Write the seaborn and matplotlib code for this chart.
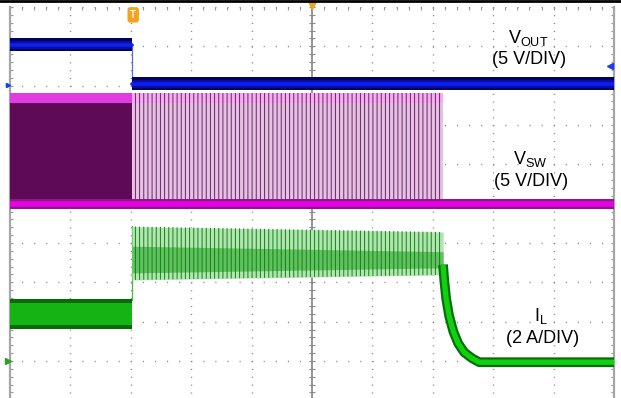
import numpy as np
import pandas as pd
import matplotlib
matplotlib.use("Agg")
import matplotlib.pyplot as plt
import seaborn as sns
from matplotlib.lines import Line2D
from matplotlib.ticker import MultipleLocator

# ---------------- data (time and amplitude in scope divisions; screen top = 10) ----------------
t_step = 2.02          # load release / trigger point
t_sw_end = 7.17        # last switching pulse

vout_t = [0.0, 2.02, 2.02, 10.0]
vout_v = [9.04, 9.04, 8.05, 8.05]

vsw_t = [0.0, 10.0]
vsw_low = [4.99, 4.99]
vsw_high = 7.69
vsw_dense_t = [0.0, 2.02]
vsw_skip_t = [2.02, 7.17]

il_pre_t = [0.0, 2.02]
il_pre_lo = [1.84, 1.84]
il_pre_hi = [2.55, 2.55]
il_rip_t = [2.02, 7.17]
il_rip_lo = [3.06, 3.19]
il_rip_hi = [4.42, 4.28]
il_fall_t = [7.17, 7.19, 7.22, 7.27, 7.34, 7.42, 7.52, 7.65, 7.77, 10.0]
il_fall_v = [3.45, 3.05, 2.60, 2.15, 1.75, 1.45, 1.22, 1.07, 0.97, 0.97]

trace_names = [r"V$_{\mathregular{OUT}}$", r"V$_{\mathregular{SW}}$", r"I$_{\mathregular{L}}$"]
trace_scales = ["(5 V/DIV)", "(5 V/DIV)", "(2 A/DIV)"]

# ---------------- style ----------------
sns.set_style("white")
plt.rcParams["font.family"] = ["Liberation Sans", "DejaVu Sans"]
plt.rcParams["mathtext.fontset"] = "custom"
plt.rcParams["mathtext.rm"] = "Liberation Sans"
plt.rcParams["hatch.linewidth"] = 0.7

W, H = 621, 398
fig = plt.figure(figsize=(W / 100, H / 100), dpi=100)
fig.patch.set_facecolor("white")
pos = [10 / W, 0, 604 / W, 391 / H]

# centre graticule line with tick marks (drawn underneath the traces)
axc = fig.add_axes(pos)
axc.set_xlim(0, 10)
axc.set_ylim(0.06, 10)
for s in ["left", "top", "bottom"]:
    axc.spines[s].set_visible(False)
axc.spines["right"].set_position(("axes", 0.5))
axc.spines["right"].set_color("#8e8e8e")
axc.spines["right"].set_linewidth(1.3)
axc.yaxis.set_major_locator(MultipleLocator(1))
axc.yaxis.set_minor_locator(MultipleLocator(0.2))
axc.tick_params(which="both", left=False, right=True, bottom=False, top=False,
                labelleft=False, labelright=False, labelbottom=False,
                direction="inout", length=4, color="#8e8e8e", width=0.8)
axc.set_zorder(0)

ax = fig.add_axes(pos)
ax.set_zorder(1)
ax.patch.set_visible(False)
ax.set_xlim(0, 10)
ax.set_ylim(0.06, 10)
ax.xaxis.set_major_locator(MultipleLocator(1))
ax.xaxis.set_minor_locator(MultipleLocator(0.2))
ax.yaxis.set_major_locator(MultipleLocator(1))
ax.yaxis.set_minor_locator(MultipleLocator(0.2))
ax.xaxis.grid(True, which="major", color="#8a8a8a", lw=1.0, linestyle=(2.1, (0.8, 4.86)))
ax.yaxis.grid(True, which="major", color="#8a8a8a", lw=1.0, linestyle=(0.4, (0.8, 7.90)))
ax.tick_params(which="both", direction="in", left=True, right=True, top=True, bottom=False,
               labelleft=False, labelbottom=False, length=2.2, color="#9a9a9a", width=0.8)
for s in ["top", "bottom"]:
    ax.spines[s].set_visible(False)
for s in ["left", "right"]:
    ax.spines[s].set_color("#a6a6a6")
    ax.spines[s].set_linewidth(1.6)

# ---------------- V_SW ----------------
ax.fill_between(vsw_dense_t, vsw_low[0], vsw_high, color="#5e0a56", lw=0, zorder=3)
ax.fill_between(vsw_dense_t, vsw_high - 0.13, vsw_high + 0.12, color="#e23ce0", lw=0, zorder=3.2)
ax.fill_between(vsw_skip_t, vsw_low[0], vsw_high - 0.13, color="#e2c4e0", lw=0, zorder=3)
ax.fill_between(vsw_skip_t, vsw_high - 0.13, vsw_high + 0.12, color="#f4aef0", lw=0, zorder=3)
ax.fill_between(vsw_skip_t, vsw_low[0], vsw_high + 0.12, facecolor="none",
                edgecolor="#72206e", hatch="||||", lw=0, zorder=3.1)
ax.fill_between(vsw_t, np.array(vsw_low) - 0.12, np.array(vsw_low) + 0.12,
                color="#8a1a88", lw=0, zorder=3.5)
sns.lineplot(x=vsw_t, y=vsw_low, ax=ax, color="#e800e6", lw=4.0,
             estimator=None, sort=False, zorder=3.6, legend=False)

# ---------------- V_OUT ----------------
sns.lineplot(x=vout_t, y=vout_v, ax=ax, color="#5a6ad8", lw=0.9,
             estimator=None, sort=False, zorder=4, legend=False)
for i in (0, 2):
    seg_t = vout_t[i:i + 2]
    seg_v = np.array(vout_v[i:i + 2])
    ax.fill_between(seg_t, seg_v - 0.17, seg_v + 0.16, color="#00005e", lw=0, zorder=4.1)
    ax.fill_between(seg_t, seg_v - 0.11, seg_v + 0.10, color="#0a0aa8", lw=0, zorder=4.15)
    sns.lineplot(x=seg_t, y=seg_v, ax=ax, color="#0a22f0", lw=2.6,
                 estimator=None, sort=False, zorder=4.2, legend=False)

# ---------------- I_L ----------------
ax.fill_between(il_pre_t, np.array(il_pre_lo) - 0.03, np.array(il_pre_hi) + 0.03,
                color="#066a06", lw=0, zorder=5)
ax.fill_between(il_pre_t, np.array(il_pre_lo) + 0.07, np.array(il_pre_hi) - 0.08,
                color="#14b414", lw=0, zorder=5.1)
sns.lineplot(x=[t_step, t_step], y=[il_pre_hi[1], il_rip_hi[0]], ax=ax, color="#3cbf3c",
             lw=0.9, estimator=None, sort=False, zorder=5, legend=False)
ax.fill_between(il_rip_t, il_rip_lo, il_rip_hi, color="#b4e4b4", lw=0, zorder=5)
ax.fill_between(il_rip_t, np.array(il_rip_lo) + 0.18, np.array(il_rip_hi) - 0.5,
                color="#62c062", lw=0, zorder=5.05)
ax.fill_between(il_rip_t, il_rip_lo, il_rip_hi, facecolor="none", edgecolor="#0c860c",
                hatch="||||", lw=0, zorder=5.1)
line_kw = dict(estimator=None, sort=False, legend=False)
ln1 = sns.lineplot(x=il_fall_t, y=il_fall_v, ax=ax, color="#067006", lw=7.0,
                   zorder=5.2, **line_kw)
ln2 = sns.lineplot(x=il_fall_t, y=il_fall_v, ax=ax, color="#10d010", lw=3.8,
                   zorder=5.3, **line_kw)
for ln in ax.get_lines()[-2:]:
    ln.set_solid_capstyle("butt")

# ---------------- labels ----------------
label_x = [8.58, 8.61, 8.79]
label_y1 = [9.085, 6.01, 2.02]
label_y2 = [8.56, 5.45, 1.46]
for name, scale, x, y1, y2 in zip(trace_names, trace_scales, label_x, label_y1, label_y2):
    ax.text(x, y1, name, ha="center", va="baseline", fontsize=13, color="black", zorder=8)
    ax.text(x + 0.02, y2, scale, ha="center", va="baseline", fontsize=13, color="black", zorder=8)

# ---------------- scope markers ----------------
ax.text(t_step + 0.02, 9.8, "T", ha="center", va="center", fontsize=7, color="white",
        fontweight="bold", zorder=9,
        bbox=dict(boxstyle="round,pad=0.28", fc="#f7a21c", ec="none"))
ax.plot([5.0], [10.06], marker="v", ms=6, color="#f7a21c", clip_on=False, zorder=9)
ax.plot([9.93], [8.5], marker="<", ms=4.5, color="#1a3ee8", clip_on=False, zorder=9)
ax.plot([-0.03], [1.0], marker=">", ms=4.5, color="#2aa02a", clip_on=False, zorder=9)
ax.plot([-0.03], [8.02], marker=">", ms=3, color="#1a3ee8", clip_on=False, zorder=9)

# top black border of the screenshot
fig.add_artist(Line2D([0, 1], [1 - 1.3 / H, 1 - 1.3 / H], transform=fig.transFigure,
                      color="black", lw=2.0))

fig.savefig("out.png", dpi=100, facecolor="white")
